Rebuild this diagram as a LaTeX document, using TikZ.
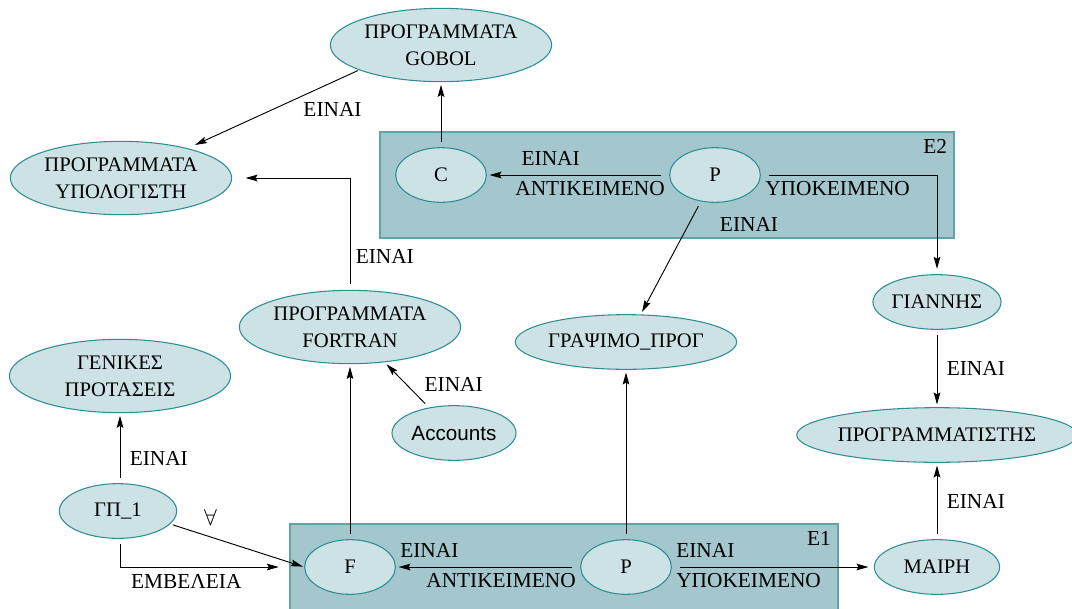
\documentclass[tikz,border=0pt]{standalone}
\usepackage{fontspec}
\setmainfont{Liberation Serif}
\newfontfamily\accfont{Liberation Sans}
\usetikzlibrary{positioning,arrows.meta,shapes.geometric,calc}
\definecolor{cFill}{HTML}{CCE2E5}
\definecolor{cEdge}{HTML}{2F8E93}
\definecolor{cFrame}{HTML}{A3C7CC}
\definecolor{cFrameEdge}{HTML}{5FA3A8}
\tikzset{
  node-ell/.style={ellipse,draw=cEdge,fill=cFill,line width=0.8pt,
    inner sep=0pt,align=center,font=\fontsize{15.5}{20}\selectfont},
  node-big/.style={node-ell,minimum width=166pt,minimum height=55pt},
  node-line/.style={node-ell,minimum height=41pt},
  node-small/.style={node-ell,minimum width=68pt,minimum height=41pt},
  node-frame/.style={rectangle,draw=cFrameEdge,fill=cFrame,line width=1.5pt,
    inner sep=0pt},
  arrow/.style={-{Stealth[length=9pt,width=5pt,inset=1.5pt]},line width=0.7pt,
    shorten <=4pt,shorten >=2pt},
  lbl/.style={font=\fontsize{16}{18}\selectfont,inner sep=3pt},
}

\begin{document}
\begin{tikzpicture}[x=0.75pt,y=-0.75pt]
  \useasboundingbox (0,0) rectangle (1072,608);
  % the two contexts
  \node[node-frame,minimum width=431pt,minimum height=79pt] (e2) at (667,185) {};
  \node[node-frame,minimum width=411pt,minimum height=69pt] (e1) at (564,570) {};
  \node[lbl,anchor=north east] at ([xshift=-3pt,yshift=-3pt]e2.north east) {E2};
  \node[lbl,anchor=north east] at ([xshift=-3pt,yshift=-3pt]e1.north east) {E1};

  % concepts
  \node[node-big] (gobol) at (441,45) {ΠΡΟΓΡΑΜΜΑΤΑ\\GOBOL};
  \node[node-big] (comp) at (121,178) {ΠΡΟΓΡΑΜΜΑΤΑ\\ΥΠΟΛΟΓΙΣΤΗ};
  \node[node-big] (fort) at (350,327) {ΠΡΟΓΡΑΜΜΑΤΑ\\FORTRAN};
  \node[node-big] (gen) at (120,376) {ΓΕΝΙΚΕΣ\\ΠΡΟΤΑΣΕΙΣ};
  \node[node-line,minimum width=166pt] (write) at (626,342) {ΓΡΑΨΙΜΟ\_ΠΡΟΓ};
  \node[node-line,minimum width=199pt] (progr) at (937,435) {ΠΡΟΓΡΑΜΜΑΤΙΣΤΗΣ};
  \node[node-line,minimum width=94pt] (gian) at (937,302) {ΓΙΑΝΝΗΣ};
  \node[node-line,minimum width=94pt] (mairi) at (937,567) {ΜΑΙΡΗ};
  \node[node-line,minimum width=93pt,font=\accfont\fontsize{15.5}{18}\selectfont]
    (acc) at (454,433) {Accounts};
  \node[node-line,minimum width=88pt] (gp) at (118,511) {ΓΠ\_1};
  \node[node-small] (c) at (441,175) {C};
  \node[node-small] (p2) at (715,175) {P};
  \node[node-small] (f) at (350,567) {F};
  \node[node-small] (p1) at (626,567) {P};

  % relations
  \draw[arrow] (c) -- (gobol);
  \draw[arrow,shorten <=1pt,shorten >=6pt] (gobol.197) -- (comp.24)
    node[lbl,pos=0.35,below right] {ΕΙΝΑΙ};
  \draw[arrow,shorten >=10pt] (fort) |- (comp)
    node[lbl,pos=0.15,right=1pt] {ΕΙΝΑΙ};
  \draw[arrow,shorten <=6pt] (p2) -- (c)
    node[lbl,pos=0.65,above=4pt] {ΕΙΝΑΙ}
    node[lbl,pos=0,below left=1.5pt and 0pt] {ΑΝΤΙΚΕΙΜΕΝΟ};
  \draw[arrow,shorten <=6pt,shorten >=4pt] (p2) -| (gian)
    node[lbl,pos=0,below right=1.5pt and 0pt] {ΥΠΟΚΕΙΜΕΝΟ};
  \draw[arrow] (p2) -- (write)
    node[lbl,pos=0.2,right=20pt] {ΕΙΝΑΙ};
  \draw[arrow] (gian) -- (progr) node[lbl,midway,right=4pt] {ΕΙΝΑΙ};
  \draw[arrow] (mairi) -- (progr) node[lbl,midway,right=4pt] {ΕΙΝΑΙ};
  \draw[arrow] (acc) -- (fort) node[lbl,midway,right=10pt] {ΕΙΝΑΙ};
  \draw[arrow] (f) -- (fort);
  \draw[arrow] (p1) -- (write);
  \draw[arrow] (gp.north -| gen) -- (gen) node[lbl,pos=0.35,right=4pt] {ΕΙΝΑΙ};
  \draw[arrow,shorten <=2pt,shorten >=1pt] (gp.-14) -- (f.west)
    node[lbl,pos=0.3,above=5pt] {$\forall$};
  \draw[arrow,shorten >=19pt] (gp.south -| gen) |- (f)
    node[lbl,pos=0.68,below=2pt] {ΕΜΒΕΛΕΙΑ};
  \draw[arrow,shorten <=6pt] (p1) -- (f)
    node[lbl,pos=1,above right=4pt and 0pt] {ΕΙΝΑΙ}
    node[lbl,pos=0,below left=1.5pt and 0pt] {ΑΝΤΙΚΕΙΜΕΝΟ};
  \draw[arrow,shorten <=6pt,shorten >=4pt] (p1) -- (mairi)
    node[lbl,pos=0,above right=4pt and 0pt] {ΕΙΝΑΙ}
    node[lbl,pos=0,below right=1.5pt and 0pt] {ΥΠΟΚΕΙΜΕΝΟ};
\end{tikzpicture}
\end{document}
